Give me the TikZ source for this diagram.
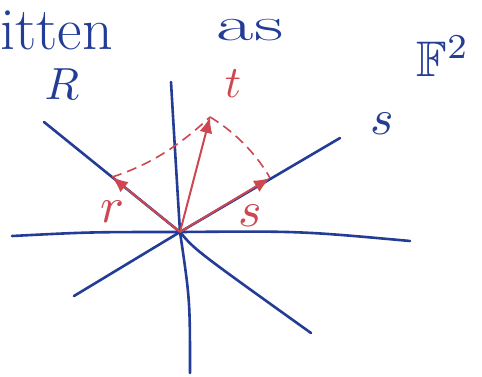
\documentclass[tikz,border=0pt]{standalone}
\usepackage{amssymb}
\usepackage{graphicx}
\usetikzlibrary{arrows.meta}
\definecolor{penblue}{RGB}{35,60,150}
\definecolor{penred}{RGB}{205,70,80}
\tikzset{
  axis/.style={penblue, line width=2.6pt, line cap=round},
  vec/.style={penred, line width=2pt, -{Latex[length=16pt,width=13pt]}},
  guide/.style={penred, line width=1.6pt, dashed, dash pattern=on 10pt off 6pt},
  bluelbl/.style={text=penblue, inner sep=0pt},
  redlbl/.style={text=penred, inner sep=0pt},
}
\begin{document}
\begin{tikzpicture}[x=1pt,y=-1pt]
\useasboundingbox (0,0) rectangle (482,376);
% origin and ends
\coordinate (O) at (180,232);
\coordinate (hl) at (12,236);
\coordinate (hr) at (410,241);
\coordinate (vt) at (171,82);
\coordinate (vb) at (190,373);
\coordinate (Rend) at (44,122);
\coordinate (Send) at (340,138);
\coordinate (LL) at (74,296);
\coordinate (LR) at (311,333);
% vector tips
\coordinate (rt) at (112,177);
\coordinate (tt) at (210,117);
\coordinate (st) at (270,178);
% axes
\draw[axis] (hl) .. controls (90,232) .. (O) .. controls (300,231) .. (hr);
\draw[axis] (vt) .. controls (175,150) .. (O) .. controls (190,300) .. (vb);
\draw[axis] (Rend) -- (O);
\draw[axis] (O) -- (Send);
\draw[axis] (O) -- (LL);
\draw[axis] (O) .. controls (195,250) .. (LR);
% dashed guides
\draw[guide] (rt) .. controls (150,165) and (180,145) .. (tt);
\draw[guide] (tt) .. controls (240,135) and (260,160) .. (st);
% vectors
\draw[vec] (O) -- (rt);
\draw[vec] (O) -- (tt);
\draw[vec] (O) -- (st);
% labels
\node[bluelbl, anchor=west, font=\fontsize{60}{60}\selectfont] (title1) at (0,30) {itten};
\node[bluelbl, anchor=base, font=\fontsize{48}{48}\selectfont] (title2) at (250,40) {\scalebox{1.7}[1]{as}};
\node[bluelbl] (F) at (443,56) {\scalebox{5}{$\mathbb{F}^2$}};
\node[bluelbl] (Rlbl) at (62,84) {\scalebox{4.5}{$R$}};
\node[bluelbl] (Slbl) at (382,124) {\scalebox{5}{$s$}};
\node[redlbl] (tlbl) at (233,84) {\scalebox{4.5}{$t$}};
\node[redlbl] (rlbl) at (112,212) {\scalebox{5}{$r$}};
\node[redlbl] (slbl) at (250,216) {\scalebox{5}{$s$}};
\end{tikzpicture}
\end{document}
